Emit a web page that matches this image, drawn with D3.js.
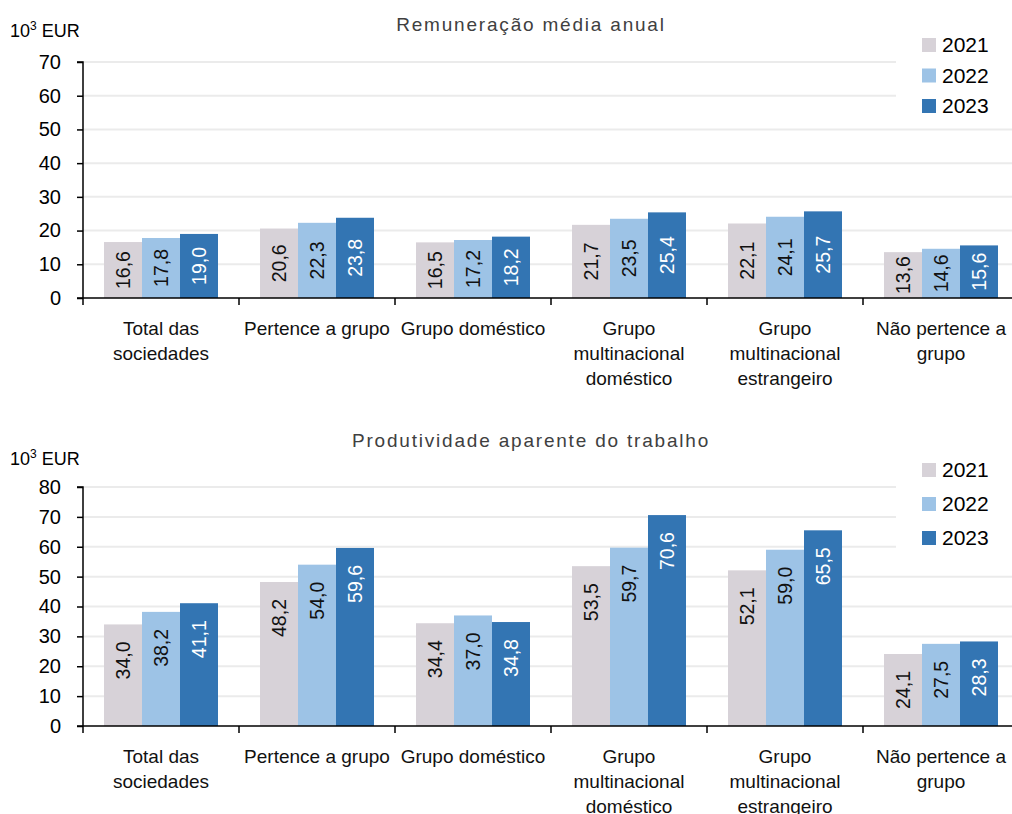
<!DOCTYPE html>
<html>
<head>
<meta charset="utf-8">
<script src="https://cdn.jsdelivr.net/npm/d3@7"></script>
<style>
  body { margin: 0; background: #fff; }
  svg text { font-family: "Liberation Sans", Arial, sans-serif; }
</style>
</head>
<body>
<div id="chart"></div>
<script>
// categories (each label split into lines)
const categories = ["Total das sociedades", "Pertence a grupo", "Grupo doméstico",
  "Grupo multinacional doméstico", "Grupo multinacional estrangeiro", "Não pertence a grupo"];
const categoryLines = [
  ["Total das", "sociedades"],
  ["Pertence a grupo"],
  ["Grupo doméstico"],
  ["Grupo", "multinacional", "doméstico"],
  ["Grupo", "multinacional", "estrangeiro"],
  ["Não pertence a", "grupo"]
];
const years = ["2021", "2022", "2023"];
const yearColors = ["#d7d2d8", "#9dc3e6", "#3375b3"];

// Remuneração média anual (10^3 EUR)
const remun2021 = [16.6, 20.6, 16.5, 21.7, 22.1, 13.6];
const remun2022 = [17.8, 22.3, 17.2, 23.5, 24.1, 14.6];
const remun2023 = [19.0, 23.8, 18.2, 25.4, 25.7, 15.6];
const remunTicks = [0, 10, 20, 30, 40, 50, 60, 70];

// Produtividade aparente do trabalho (10^3 EUR)
const prod2021 = [34.0, 48.2, 34.4, 53.5, 52.1, 24.1];
const prod2022 = [38.2, 54.0, 37.0, 59.7, 59.0, 27.5];
const prod2023 = [41.1, 59.6, 34.8, 70.6, 65.5, 28.3];
const prodTicks = [0, 10, 20, 30, 40, 50, 60, 70, 80];

const W = 1012, H = 814;
const svg = d3.select("#chart").append("svg")
    .attr("width", W)
    .attr("height", H);

function fmt(v) { return d3.format(".1f")(v).replace(".", ","); }

function drawPanel(opt) {
    const g = svg.append("g");
    const series = opt.series;

    const x0 = d3.scaleBand()
        .domain(categories)
        .range([83, 1019]);
    const x1 = d3.scaleBand()
        .domain(years)
        .range([21, x0.bandwidth() - 21]);
    const y = d3.scaleLinear()
        .domain([0, d3.max(opt.ticks)])
        .range([opt.bottom, opt.top]);

    // gridlines
    g.selectAll(".grid")
        .data(opt.ticks.slice(1))
        .enter().append("line")
        .attr("x1", 83).attr("x2", W)
        .attr("y1", d => y(d)).attr("y2", d => y(d))
        .attr("stroke", "#ebebeb")
        .attr("stroke-width", 2);

    // legend background hides gridlines behind it
    g.append("rect")
        .attr("x", 896).attr("y", opt.top - 20)
        .attr("width", W - 896).attr("height", opt.legendH)
        .attr("fill", "#fff");

    // bars
    years.forEach((yr, k) => {
        const vals = series[k];
        g.selectAll(".bar" + yr)
            .data(vals)
            .enter().append("rect")
            .attr("x", (d, i) => x0(categories[i]) + x1(yr))
            .attr("width", x1.bandwidth())
            .attr("y", d => y(d))
            .attr("height", d => y(0) - y(d))
            .attr("fill", yearColors[k]);

        g.selectAll(".lab" + yr)
            .data(vals)
            .enter().append("text")
            .attr("transform", (d, i) => {
                const cx = x0(categories[i]) + x1(yr) + x1.bandwidth() / 2;
                const cy = opt.labelY(y, d);
                return "translate(" + cx + "," + cy + ") rotate(-90)";
            })
            .attr("text-anchor", "middle")
            .attr("dy", "0.35em")
            .attr("font-size", 19.5)
            .attr("fill", k === 2 ? "#fff" : "#111")
            .text(d => fmt(d));
    });

    // y axis
    const yAxis = g.append("g")
        .attr("transform", "translate(83,0)")
        .call(d3.axisLeft(y).tickValues(opt.ticks).tickSize(6).tickPadding(16).tickFormat(d3.format("d")));
    yAxis.select(".domain").attr("stroke", "#000").attr("stroke-width", 1.5).attr("d", "M-6," + y(d3.max(opt.ticks)) + "H0V" + y(0));
    yAxis.selectAll(".tick line").attr("stroke", "#000").attr("stroke-width", 1.5);
    yAxis.selectAll(".tick text").attr("font-size", 20).attr("fill", "#000")
        .style("font-family", "'Liberation Sans', Arial, sans-serif");

    // x axis
    g.append("line")
        .attr("x1", 77).attr("x2", W)
        .attr("y1", y(0)).attr("y2", y(0))
        .attr("stroke", "#000").attr("stroke-width", 1.5);
    g.selectAll(".xtick")
        .data(categories)
        .enter().append("line")
        .attr("x1", d => x0(d)).attr("x2", d => x0(d))
        .attr("y1", y(0)).attr("y2", y(0) + 7)
        .attr("stroke", "#000").attr("stroke-width", 1.5);

    // category labels
    categories.forEach((c, i) => {
        const t = g.append("text")
            .attr("text-anchor", "middle")
            .attr("font-size", 19)
            .attr("fill", "#111");
        categoryLines[i].forEach((ln, j) => {
            t.append("tspan")
                .attr("x", x0(c) + x0.bandwidth() / 2)
                .attr("y", y(0) + 37 + j * 25)
                .text(ln);
        });
    });

    // title
    g.append("text")
        .attr("x", 531).attr("y", opt.titleY)
        .attr("text-anchor", "middle")
        .attr("font-size", 19)
        .attr("letter-spacing", "1.8px")
        .attr("fill", "#404040")
        .text(opt.title);

    // unit
    const u = g.append("text")
        .attr("x", 10).attr("y", opt.unitY)
        .attr("font-size", 18)
        .attr("fill", "#000");
    u.append("tspan").text("10");
    u.append("tspan").attr("font-size", 12).attr("dy", -7).text("3");
    u.append("tspan").attr("dy", 7).text(" EUR");

    // legend
    years.forEach((yr, k) => {
        g.append("rect")
            .attr("x", 922).attr("y", opt.legendY + k * opt.legendStep - 13)
            .attr("width", 14).attr("height", 14)
            .attr("fill", yearColors[k]);
        g.append("text")
            .attr("x", 942).attr("y", opt.legendY + k * opt.legendStep + 1)
            .attr("font-size", 21)
            .attr("fill", "#000")
            .text(yr);
    });
}

drawPanel({
    series: [remun2021, remun2022, remun2023],
    ticks: remunTicks,
    top: 62, bottom: 298,
    title: "Remuneração média anual",
    titleY: 31, unitY: 37,
    legendY: 51, legendStep: 30.5, legendH: 58,
    labelY: (y, d) => y(d / 2)
});

drawPanel({
    series: [prod2021, prod2022, prod2023],
    ticks: prodTicks,
    top: 487, bottom: 726,
    title: "Produtividade aparente do trabalho",
    titleY: 447, unitY: 465,
    legendY: 476, legendStep: 34, legendH: 85,
    labelY: (y, d) => y(d) + 36
});
</script>
</body>
</html>
